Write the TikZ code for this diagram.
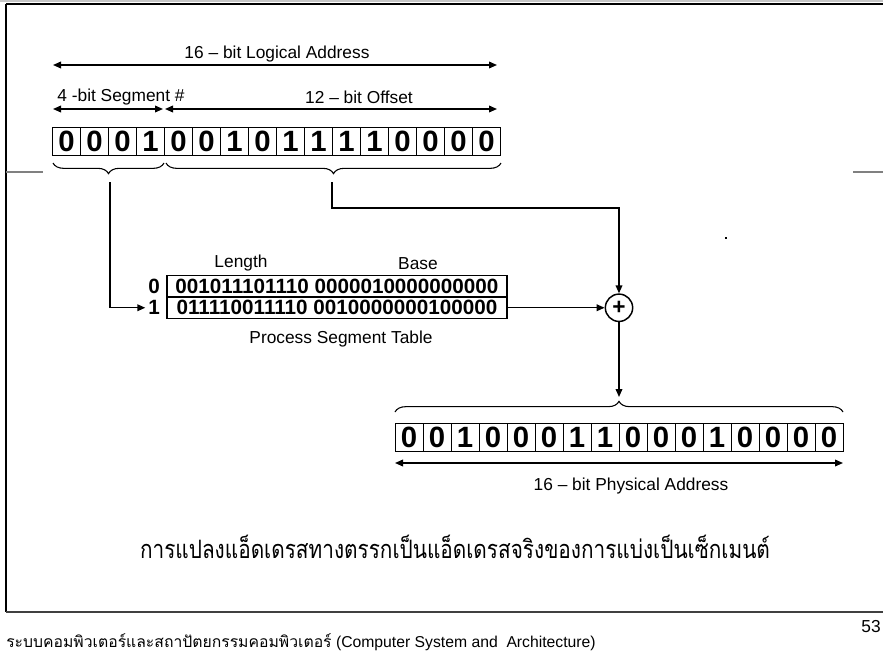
\documentclass[tikz,border=0pt]{standalone}
\usepackage{fontspec}
\setmainfont{Liberation Sans}
\newfontfamily\thaifont[Script=Thai]{Loma}
\usetikzlibrary{arrows.meta,decorations.pathreplacing}

\tikzset{
  tip/.tip={Triangle[length=6pt,width=5pt]},
  wire/.style={line width=1.1pt},
  arr/.style={wire,-tip},
  dimarr/.style={wire,tip-tip},
  bitcell/.style={draw,line width=0.7pt,minimum width=21pt,minimum height=21pt,
    inner sep=0pt,font=\fontsize{22}{22}\selectfont\bfseries},
  txt/.style={inner sep=0pt,font=\fontsize{13}{15}\selectfont},
  tblrow/.style={draw,line width=1.1pt,minimum width=255pt,minimum height=16.1pt,
    inner sep=0pt,font=\fontsize{15.5}{16}\selectfont\bfseries},
  rowlbl/.style={inner sep=2pt,font=\fontsize{15.5}{16}\selectfont\bfseries},
  bracestyle/.style={decorate,decoration={brace,amplitude=8pt},line width=0.8pt},
  frame/.style={line width=1.2pt},
}

\begin{document}
\begin{tikzpicture}[x=0.75pt,y=-0.75pt]
\useasboundingbox (0,0) rectangle (883,657);

% slide frame
\draw[gray!45,line width=1pt] (0,1) -- (883,1);
\draw[frame] (6,4) -- (883,4);
\draw[frame] (6,4) -- (6,612);
\draw[frame,black!75] (6,612) -- (883,612);
\draw[frame,gray] (6,172) -- (43,172);
\draw[frame,gray] (853,172) -- (883,172);
\fill (725,237) rectangle (727,239);

% logical address
\coordinate (la1l) at (53,65);
\coordinate (la1r) at (497,65);
\draw[dimarr] (la1l) -- (la1r);
\node[txt] (logtxt) at (277,54) {16 – bit Logical Address};

\coordinate (sgl) at (53,109);
\coordinate (sgr) at (163,109);
\coordinate (ofl) at (165,109);
\coordinate (ofr) at (497,109);
\draw[dimarr] (sgl) -- (sgr);
\draw[dimarr] (ofl) -- (ofr);
\node[txt] (segtxt) at (121,97) {4 -bit Segment \#};
\node[txt] (offtxt) at (359,97) {12 – bit Offset};

\foreach \b [count=\i from 0] in {0,0,0,1,0,0,1,0,1,1,1,1,0,0,0,0}
  \node[bitcell] (la\i) at ({66.5+28*\i},141) {\b};

\draw[bracestyle] (164,163) -- (53,163);
\draw[bracestyle] (501,163) -- (166,163);
\coordinate (segtip) at (110,182);
\coordinate (offtip) at (332,182);
\coordinate (bend) at (332,208);

% segment table
\node[txt] (lenhdr) at (241,263) {Length};
\node[txt] (basehdr) at (418,264) {Base};
\node[tblrow] (row0) at (337,286.25) {001011101110 0000010000000000};
\node[tblrow] (row1) at (337,307.75) {011110011110 0010000000100000};
\node[rowlbl] (lbl0) at (154,286.25) {0};
\node[rowlbl] (lbl1) at (154,307.75) {1};
\node[txt] (tbltxt) at (341,339) {Process Segment Table};

% adder
\node[circle,draw,line width=1.1pt,minimum size=20.5pt,inner sep=0pt,
  font=\fontsize{17}{17}\selectfont\bfseries] (adder) at (619,307.75) {+};

\draw[arr] (segtip) |- (lbl1.west);
\draw[arr] (offtip) -- (bend) -| (adder.north);
\draw[arr] (row1.east) -- (adder.west);

% physical address
\coordinate (phystip) at (619,397);
\draw[arr] (adder.south) -- (phystip);
\draw[bracestyle] (395,412) -- (843,412);
\foreach \b [count=\i from 0] in {0,0,1,0,0,0,1,1,0,0,0,1,0,0,0,0}
  \node[bitcell] (pa\i) at ({409+28*\i},437.5) {\b};
\coordinate (phl) at (395,463);
\coordinate (phr) at (843,463);
\draw[dimarr] (phl) -- (phr);
\node[txt] (phystxt) at (631,486) {16 – bit Physical Address};

% caption and footer
\node[inner sep=0pt,font=\thaifont\fontsize{19}{24}\selectfont] (caption) at (455,547)
  {\scalebox{0.82}[1]{การแปลงแอ็ดเดรสทางตรรกเป็นแอ็ดเดรสจริงของการแบ่งเป็นเซ็กเมนต์}};
\node[anchor=west,inner sep=0pt,font=\fontsize{11.8}{14}\selectfont] (footer) at (6,642)
  {{\thaifont ระบบคอมพิวเตอร์และสถาปัตยกรรมคอมพิวเตอร์} (Computer System and\ \ Architecture)};
\node[anchor=east,inner sep=0pt,font=\fontsize{13}{15}\selectfont] (pageno) at (881,627) {53};
\end{tikzpicture}
\end{document}
